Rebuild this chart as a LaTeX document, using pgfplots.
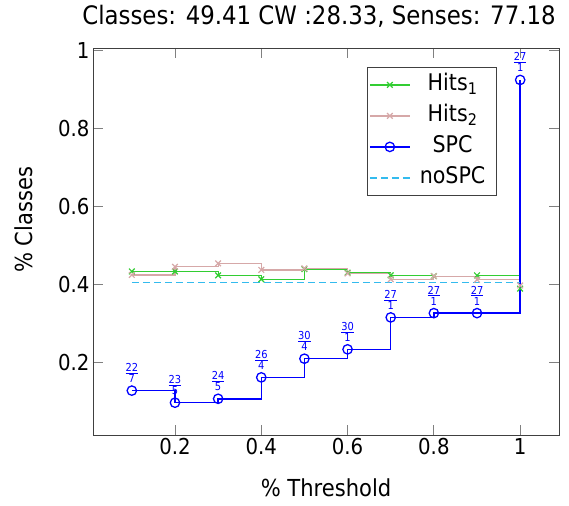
\documentclass[border=0pt]{standalone}
\usepackage{fontspec}
\setmainfont{DejaVu Sans Condensed}
\usepackage{pgfplots}
\pgfplotsset{compat=1.18}
\definecolor{hitsA}{RGB}{50,205,50}
\definecolor{hitsB}{RGB}{214,168,168}
\definecolor{nospc}{RGB}{51,187,238}
\newcommand\fr[2]{\begin{tabular}{@{}c@{}}#1\\[-2pt]\noalign{\hrule height 0.8pt}\rule{0pt}{9pt}#2\end{tabular}}
\newcommand\legbox[1]{\makebox[76bp]{#1}}
\begin{document}
\begin{tikzpicture}
\useasboundingbox (-93bp,-71bp) rectangle (476bp,435bp);
\begin{axis}[
  scale only axis, width=466bp, height=387bp,
  xmin=0.01, xmax=1.09, ymin=0.013, ymax=1.007,
  xtick={0.2,0.4,0.6,0.8,1}, ytick={0.2,0.4,0.6,0.8,1},
  /pgf/number format/assume math mode=true,
  ticklabel style={font=\fontsize{22}{26}\selectfont},
  tick align=inside, major tick length=10bp,
  tick style={gray, line width=0.8bp},
  axis line style={black!75, line width=0.8bp},
  title={Classes: 49.41 CW :28.33, Senses: 77.18},
  title style={at={(axis description cs:0.485,1.044)}, anchor=base, font=\fontsize{25.5}{28}\selectfont},
  xlabel={\% Threshold},
  xlabel style={at={(axis description cs:0.5,-0.1602)}, anchor=base, font=\fontsize{23.5}{26}\selectfont},
  ylabel={\% Classes},
  ylabel style={at={(axis description cs:-0.1288,0.556)}, anchor=base, font=\fontsize{23.5}{26}\selectfont},
  legend style={at={(axis description cs:1,1)}, anchor=north east, xshift=-62bp, yshift=-19bp,
    font=\fontsize{23}{24}\selectfont, draw=black!75, line width=0.8bp, inner sep=2bp,
    nodes={text height=17bp, text depth=6bp, inner sep=4bp}},
  legend cell align=center,
  legend image code/.code={\draw[mark repeat=2,mark phase=2,#1] plot coordinates {(0bp,0bp) (20bp,0bp) (40bp,0bp)};},
]
\addplot+[const plot, color=hitsA, mark=x, mark size=4bp, line width=1.2bp, mark options={solid, line width=1.2bp}] coordinates {
(0.1,0.433)(0.2,0.433)(0.3,0.423)(0.4,0.413)(0.5,0.439)(0.6,0.430)(0.7,0.423)(0.8,0.421)(0.9,0.423)(1.0,0.389)};
\addlegendentry{\legbox{Hits\textsubscript{1}}}
\addplot+[const plot, color=hitsB, mark=x, mark size=4bp, line width=1.2bp, mark options={solid, line width=1.2bp}] coordinates {
(0.1,0.424)(0.2,0.445)(0.3,0.454)(0.4,0.437)(0.5,0.441)(0.6,0.428)(0.7,0.413)(0.8,0.421)(0.9,0.412)(1.0,0.397)};
\addlegendentry{\legbox{Hits\textsubscript{2}}}
\addplot+[forget plot, const plot, color=blue, mark=o, mark size=4.7bp, line width=1.5bp, mark options={solid, line width=1.3bp},
  nodes near coords, point meta=explicit symbolic,
  every node near coord/.append style={font=\fontsize{11}{11}\selectfont, text=blue, anchor=south, yshift=4bp, inner sep=0pt}] coordinates {
(0.1,0.127) [\fr{22}{7}]
(0.2,0.096) [\fr{23}{5}]
(0.3,0.106) [\fr{24}{5}]
(0.4,0.161) [\fr{26}{4}]
(0.5,0.209) [\fr{30}{4}]
(0.6,0.233) [\fr{30}{1}]
(0.7,0.315) [\fr{27}{1}]
(0.8,0.326) [\fr{27}{1}]
(0.9,0.326) [\fr{27}{1}]
(1.0,0.925) [\fr{27}{1}]};
\addlegendimage{color=blue, mark=o, mark size=4.7bp, line width=1.5bp, mark options={solid, line width=1.3bp}}
\addlegendentry{\legbox{SPC}}
\addplot[color=nospc, line width=1.2bp, dash pattern=on 7bp off 4bp] coordinates {(0.1,0.405)(1.0,0.405)};
\addlegendentry{\legbox{noSPC}}
\end{axis}
\end{tikzpicture}
\end{document}
